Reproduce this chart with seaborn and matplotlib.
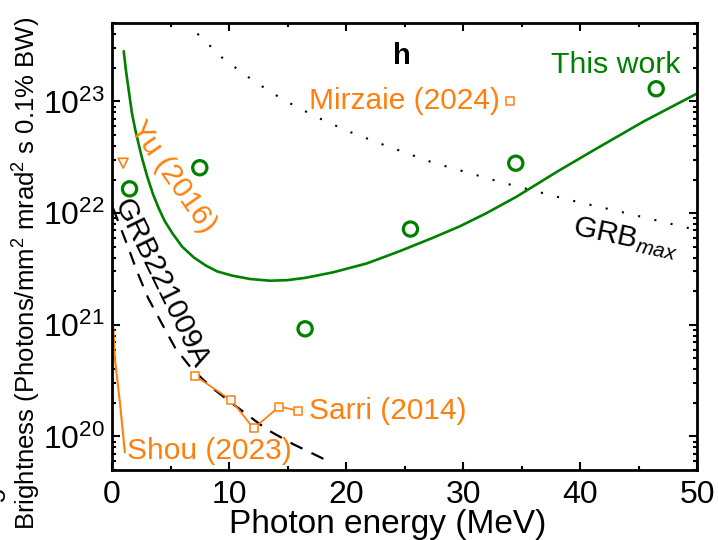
import numpy as np
import pandas as pd
import matplotlib
matplotlib.use("Agg")
import matplotlib.pyplot as plt
import matplotlib.ticker as mticker
import seaborn as sns

# ---------------- data ----------------
this_work_x = [1.5, 7.5, 16.5, 25.5, 34.5, 46.5]
this_work_y = [1.65e22, 2.55e22, 9.2e20, 7.2e21, 2.8e22, 1.3e23]

theory_x = [1.0, 1.2, 1.4, 1.7, 2.0, 2.5, 3.0, 3.5, 4.0, 4.5, 5.2, 6.0, 7.0, 8.0, 9.0,
            10.3, 11.8, 13.5, 15.0, 16.5, 18.9, 21.8, 24.6, 27.4, 29.7, 32.0, 34.6,
            38.0, 41.1, 45.4, 50.0]
theory_y = [2.82e23, 1.86e23, 1.32e23, 7.9e22, 5.5e22, 3.3e22, 2.14e22, 1.48e22,
            1.1e22, 8.5e21, 6.5e21, 5.0e21, 4.0e21, 3.4e21, 3.0e21,
            2.75e21, 2.57e21, 2.48e21, 2.51e21, 2.63e21, 2.95e21, 3.55e21, 4.57e21,
            6.0e21, 7.6e21, 1.0e22, 1.41e22, 2.34e22, 3.63e22, 6.6e22, 1.18e23]

grbmax_x = [7.3, 9.5, 12.05, 14.6, 17.35, 20.2, 23.1, 27.35, 33.25, 39.1, 43.6, 49.6]
grbmax_y = [4.05e23, 2.42e23, 1.54e23, 1.04e23, 7.35e22, 5.4e22, 4.13e22,
            2.85e22, 1.89e22, 1.31e22, 1.02e22, 7.2e21]

grb221009a_x = [0.1, 1.3, 2.14, 3.08, 4.27, 5.4, 6.84, 8.5, 10.2, 13.25, 15.5, 17.8, 18.6]
grb221009a_y = [1.1e22, 5.2e21, 3.0e21, 1.74e21, 1.02e21, 6.2e20, 4.0e20, 2.75e20,
                2.0e20, 1.15e20, 8.5e19, 6.5e19, 5.9e19]

sarri_x = [7.1, 10.2, 12.1, 14.3, 15.9]
sarri_y = [3.5e20, 2.1e20, 1.18e20, 1.85e20, 1.7e20]

shou_x = [0.08, 0.25, 0.68, 1.1]
shou_y = [1.05e21, 4.9e20, 2.0e20, 7.2e19]

yu_x = [0.95]
yu_y = [2.8e22]

mirzaie_x = [34.0]
mirzaie_y = [1.0e23]

x_ticks = [0, 10, 20, 30, 40, 50]

# ---------------- style ----------------
sns.set_style("ticks", {"axes.edgecolor": "black", "xtick.color": "black",
                        "ytick.color": "black", "text.color": "black",
                        "axes.labelcolor": "black"})
plt.rcParams["font.family"] = ["Liberation Sans", "DejaVu Sans"]
plt.rcParams["mathtext.fontset"] = "custom"
plt.rcParams["mathtext.rm"] = "Liberation Sans"
plt.rcParams["mathtext.it"] = "Liberation Sans:italic"
plt.rcParams["axes.linewidth"] = 2.0

GREEN = "#008000"
ORANGE = "#ff7f0e"

fig = plt.figure(figsize=(7.18, 5.4), dpi=100)
ax = fig.add_axes([0.156, 0.1296, 0.815, 0.827])

def line(x, y, **kw):
    df = pd.DataFrame({"x": x, "y": y})
    sns.lineplot(data=df, x="x", y="y", ax=ax, sort=False, estimator=None, **kw)

def pts(x, y, **kw):
    df = pd.DataFrame({"x": x, "y": y})
    sns.scatterplot(data=df, x="x", y="y", ax=ax, **kw)

line(grbmax_x, grbmax_y, color="black", lw=1.5, linestyle=(0, (1, 7)))
line(grb221009a_x, grb221009a_y, color="black", lw=1.6, linestyle=(0, (6, 4.5)))
line(theory_x, theory_y, color=GREEN, lw=1.9)
line(shou_x, shou_y, color=ORANGE, lw=1.5)
line(sarri_x, sarri_y, color=ORANGE, lw=1.3)

pts(sarri_x, sarri_y, marker="s", s=38, facecolor="white", edgecolor=ORANGE, linewidth=1.1, zorder=5)
pts(mirzaie_x, mirzaie_y, marker="s", s=38, facecolor="white", edgecolor=ORANGE, linewidth=1.1, zorder=5)
pts(yu_x, yu_y, marker="v", s=50, facecolor="none", edgecolor=ORANGE, linewidth=1.2, zorder=5)
pts(this_work_x, this_work_y, marker="o", s=105, facecolor="none", edgecolor=GREEN, linewidth=2.3, zorder=6)

ax.set_yscale("log")
ax.set_xlim(0, 50)
ax.set_ylim(5e19, 5e23)
ax.set_xticks(x_ticks)
ax.xaxis.set_minor_locator(mticker.MultipleLocator(5))
ax.yaxis.set_major_locator(mticker.LogLocator(base=10, numticks=10))
ax.yaxis.set_minor_locator(mticker.LogLocator(base=10, subs=np.arange(2, 10), numticks=20))
ax.tick_params(which="both", direction="in", top=True, right=True, width=1.5, colors="black")
ax.tick_params(which="major", length=5.5, labelsize=23, pad=5)
ax.tick_params(which="minor", length=3)
ax.tick_params(axis="x", which="major", pad=7)
ax.set_xlabel("")
ax.set_ylabel("")

fig.text(388 / 718, 1 - 524 / 540, "Photon energy (MeV)", fontsize=24, ha="center", va="center")
fig.text(27 / 718, 1 - 273 / 540, "Brightness (Photons/mm$^2$ mrad$^2$ s 0.1% BW)",
         fontsize=18.5, rotation=90, ha="center", va="center")
fig.text(-2 / 718, 1 - 495 / 540, "5", fontsize=18, rotation=90, ha="center", va="center")

tA = ax.transAxes
ax.text(0.496, 0.928, "h", transform=tA, fontsize=21, fontweight="bold", ha="center", va="center")
ax.text(0.860, 0.906, "This work", transform=tA, fontsize=21.8, color=GREEN, ha="center", va="center")
ax.text(0.663, 0.826, "Mirzaie (2024)", transform=tA, fontsize=21.5, color=ORANGE, ha="right", va="center")
ax.text(0.337, 0.132, "Sarri (2014)", transform=tA, fontsize=21.5, color=ORANGE, ha="left", va="center")
ax.text(0.025, 0.043, "Shou (2023)", transform=tA, fontsize=21.5, color=ORANGE, ha="left", va="center")
ax.text(0.104, 0.655, "Yu (2016)", transform=tA, fontsize=21.5, color=ORANGE, rotation=-55,
        ha="center", va="center", rotation_mode="anchor")
ax.text(0.083, 0.418, "GRB221009A", transform=tA, fontsize=21.5, color="black", rotation=-64,
        ha="center", va="center", rotation_mode="anchor")
ax.text(0.877, 0.519, "GRB$_{\\mathit{max}}$", transform=tA, fontsize=21.5, color="black", rotation=-12,
        ha="center", va="center", rotation_mode="anchor")

fig.savefig("out.png", dpi=100)
